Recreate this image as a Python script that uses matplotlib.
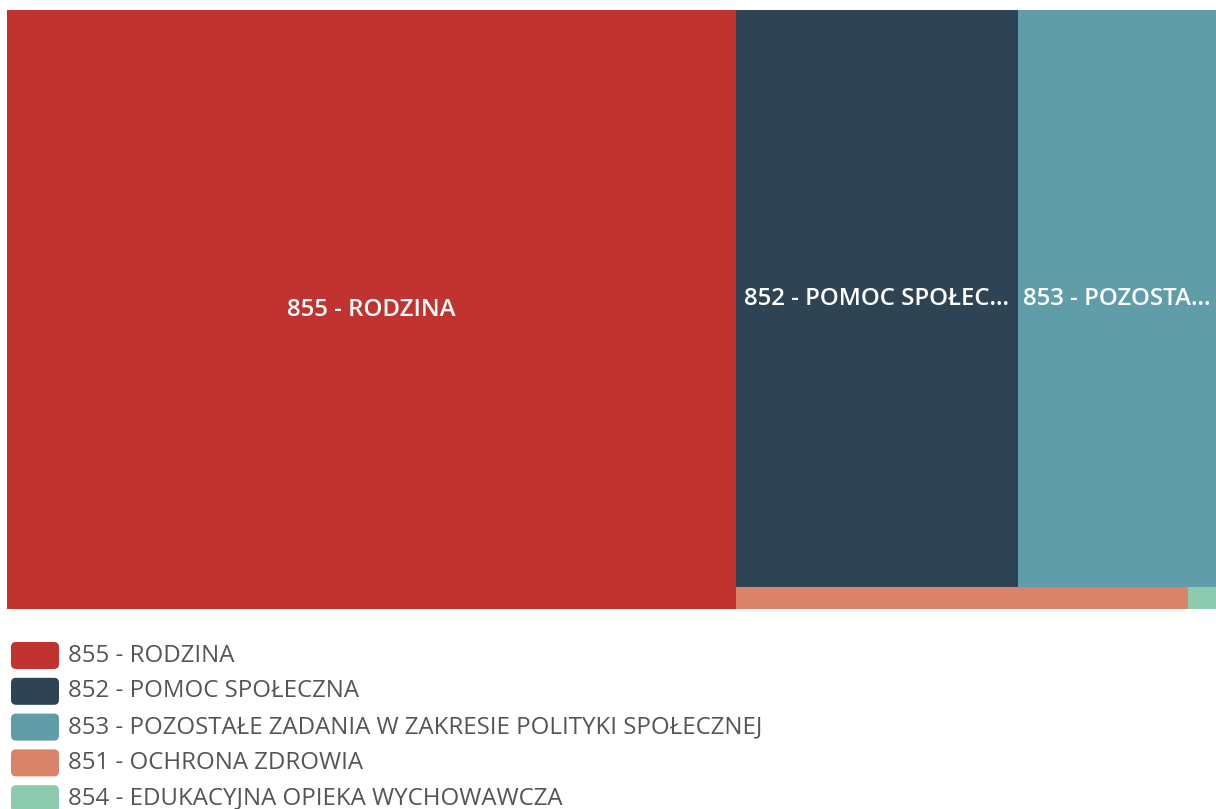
import numpy as np
from matplotlib import pyplot as plt
from matplotlib.patches import Rectangle, FancyBboxPatch

# dane
labels = ["855 - RODZINA",
          "852 - POMOC SPOŁECZNA",
          "853 - POZOSTAŁE ZADANIA W ZAKRESIE POLITYKI SPOŁECZNEJ",
          "851 - OCHRONA ZDROWIA",
          "854 - EDUKACYJNA OPIEKA WYCHOWAWCZA"]
values = [60.3, 22.5, 15.8, 1.37, 0.085]
colors = ["#C1332F", "#2E4353", "#5F9EA8", "#D98468", "#8CCBAE"]
# grupy kafelków: kolumna, potem rzędy
groups = [[0], [1, 2], [3, 4]]

W, H = 1216, 809
plt.rcParams['font.family'] = ['Open Sans', 'DejaVu Sans']


#==============================================================#
def layout(vals, groups, w, h):
    """pierwsza grupa jako kolumna, reszta jako rzędy pod sobą"""
    k = w * h / sum(vals)
    rects = {}
    x0 = 0.0
    g0 = groups[0]
    cw = sum(vals[i] for i in g0) * k / h
    y = 0.0
    for i in g0:
        rh = vals[i] * k / cw
        rects[i] = (x0, y, cw, rh)
        y += rh
    x0 = cw
    rw = w - cw
    y = 0.0
    for g in groups[1:]:
        rh = sum(vals[i] for i in g) * k / rw
        x = x0
        for i in g:
            tw = vals[i] * k / rh
            rects[i] = (x, y, tw, rh)
            x += tw
        y += rh
    return rects


fig = plt.figure(figsize=(W / 100, H / 100), dpi=100)
bw, bh = 1209, 599
ax = fig.add_axes([7 / W, 1 - 609 / H, bw / W, bh / H])
ax.set_xlim(0, bw)
ax.set_ylim(bh, 0)
ax.axis('off')

rects = layout(values, groups, bw, bh)
fig.canvas.draw()
renderer = fig.canvas.get_renderer()
for i, (x, y, w, h) in rects.items():
    ax.add_patch(Rectangle((x, y), w, h, facecolor=colors[i], edgecolor='none'))
    if h < 40:
        continue
    t = ax.text(x + w / 2, y + h / 2, labels[i], color='white', fontsize=17.3,
                fontweight='semibold', ha='center', va='center')
    s = labels[i]
    # obcinanie etykiety
    while t.get_window_extent(renderer).width > w - 8 and len(s) > 1:
        s = s[:-1]
        t.set_text(s.rstrip() + "...")

# legenda
lax = fig.add_axes([0, 0, 1, 1])
lax.set_xlim(0, W)
lax.set_ylim(H, 0)
lax.axis('off')
for j, lab in enumerate(labels):
    yc = 655.5 + j * 35.8
    lax.add_patch(FancyBboxPatch((11, yc - 13.5), 48, 27,
                                 boxstyle="round,pad=0,rounding_size=5",
                                 facecolor=colors[j], edgecolor='none'))
    lax.text(68, yc, lab, color='#555555', fontsize=17.3, ha='left', va='center')

fig.savefig("out.png", dpi=100)
